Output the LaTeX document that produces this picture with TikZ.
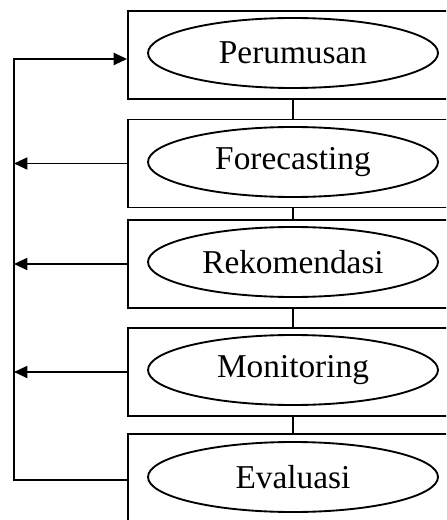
\documentclass[tikz,border=0pt]{standalone}
\usepackage{fontspec}
\setmainfont{Liberation Serif}
\usetikzlibrary{arrows.meta,shapes.geometric}

\begin{document}
\begin{tikzpicture}[x=0.75pt,y=-0.75pt,line width=1.4pt,
  stagebox/.style={draw,rectangle,minimum width=247.5pt,minimum height=66pt,inner sep=0pt},
  stagename/.style={draw,ellipse,minimum width=217.5pt,minimum height=52.5pt,inner sep=0pt,font=\fontsize{25}{30}\selectfont},
  feedback/.style={-{Triangle[length=10pt,width=9pt]}}]
\path[use as bounding box] (0,0) rectangle (446,520);
\clip (0,0) rectangle (446,520);
\node[stagebox] (box1) at (293,55) {};
\node[stagebox] (box2) at (293,163.5) {};
\node[stagebox] (box3) at (293,264) {};
\node[stagebox] (box4) at (293,372) {};
\node[stagebox] (box5) at (293,478) {};
\node[stagename] (perumusan) at (293,53) {Perumusan};
\node[stagename] (forecasting) at (293,162) {Forecasting};
\node[stagename] (rekomendasi) at (293,262) {Rekomendasi};
\node[stagename] (monitoring) at (293,370) {Monitoring};
\node[stagename] (evaluasi) at (293,477) {Evaluasi};
\draw (box1.south) -- (box2.north);
\draw (box2.south) -- (box3.north);
\draw (box3.south) -- (box4.north);
\draw (box4.south) -- (box5.north);
\coordinate (top) at (14,59);
\coordinate (bottom) at (14,480);
\draw[feedback] (box5.west |- bottom) -- (bottom) -- (top) -- ([yshift=-3pt]box1.west);
\draw[feedback] (box2.west) -- (box2.west -| top);
\draw[feedback] (box3.west) -- (box3.west -| top);
\draw[feedback] (box4.west) -- (box4.west -| top);
\end{tikzpicture}
\end{document}
